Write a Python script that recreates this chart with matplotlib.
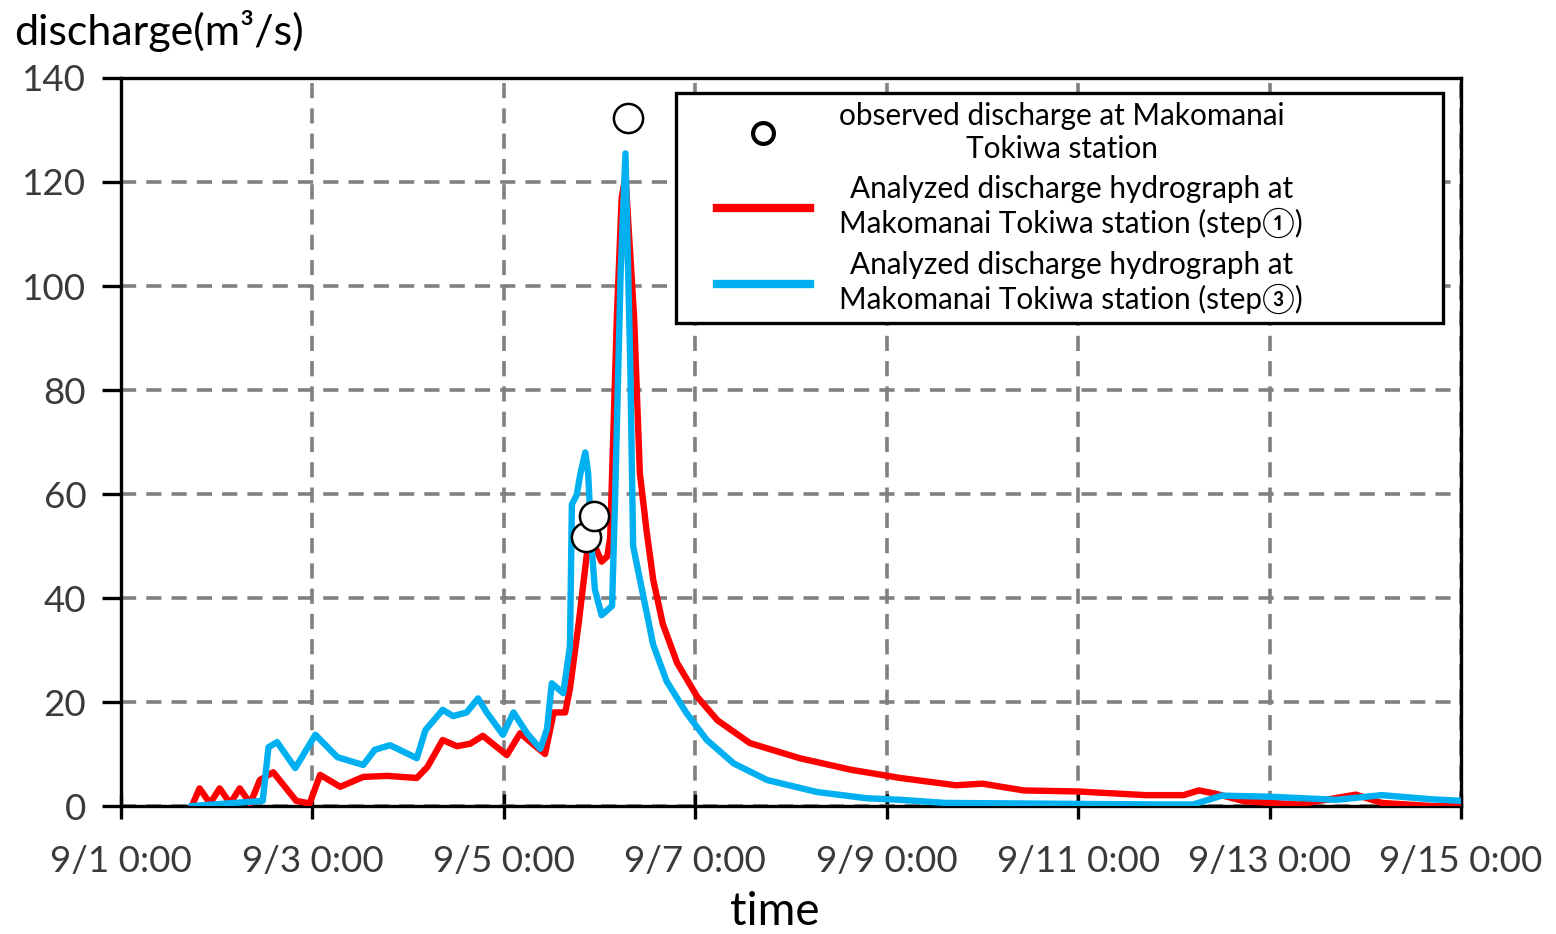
import matplotlib
matplotlib.use("Agg")
import matplotlib.pyplot as plt
from matplotlib.lines import Line2D
from matplotlib.legend_handler import HandlerLine2D

# time in days since 9/1 0:00, discharge in m3/s
t_red = [0.74, 0.82, 0.93, 1.03, 1.14, 1.24, 1.35, 1.45, 1.59, 1.83, 1.97, 2.08, 2.29,
         2.53, 2.78, 3.09, 3.20, 3.36, 3.51, 3.65, 3.78, 4.03, 4.17, 4.31, 4.43, 4.52,
         4.64, 4.69, 4.78, 4.87, 4.95, 5.02, 5.08, 5.11, 5.18, 5.23, 5.27, 5.36, 5.42,
         5.49, 5.56, 5.66, 5.81, 6.02, 6.23, 6.57, 7.09, 7.62, 8.14, 8.72, 9.00, 9.43,
         10.00, 10.70, 11.10, 11.26, 11.43, 11.74, 12.30, 12.90, 13.17, 13.70, 14.00]
q_red = [0, 3.4, 0.5, 3.4, 0.5, 3.4, 0.5, 5.0, 6.5, 1.0, 0.5, 6.0, 3.7,
         5.6, 5.8, 5.4, 7.5, 12.7, 11.5, 12.0, 13.5, 9.8, 14.0, 11.8, 10.0, 18.0,
         18.0, 22.6, 35.0, 49.0, 50.0, 47.0, 48.0, 51.6, 94.0, 117.0, 121.0, 94.0, 64.0,
         53.0, 43.5, 35.0, 27.5, 21.0, 16.5, 12.1, 9.2, 7.0, 5.4, 4.0, 4.3, 3.0,
         2.8, 2.1, 2.1, 3.0, 2.4, 0.9, 0.3, 2.2, 0.6, 0, 0]

t_blue = [0.74, 1.48, 1.54, 1.63, 1.82, 2.03, 2.26, 2.53, 2.65, 2.81, 3.09, 3.18, 3.36,
          3.47, 3.61, 3.73, 3.82, 3.99, 4.10, 4.24, 4.38, 4.45, 4.50, 4.62, 4.69, 4.71,
          4.76, 4.80, 4.85, 4.88, 4.92, 4.95, 5.02, 5.13, 5.16, 5.22, 5.27, 5.32, 5.35,
          5.46, 5.56, 5.70, 5.91, 6.12, 6.40, 6.75, 7.27, 7.79, 8.14, 8.61, 10.87, 11.20,
          11.50, 12.00, 12.70, 13.17, 13.69, 14.00]
q_blue = [0, 1.0, 11.3, 12.3, 7.3, 13.7, 9.4, 7.9, 10.8, 11.7, 9.2, 14.6, 18.5,
          17.3, 18.0, 20.7, 18.0, 13.7, 18.0, 14.0, 11.0, 14.8, 23.6, 21.7, 30.8, 58.0,
          59.8, 64.0, 68.0, 64.0, 49.0, 41.7, 36.7, 38.5, 58.0, 103.0, 125.5, 85.0, 50.0,
          40.0, 31.0, 24.0, 17.8, 12.7, 8.2, 5.0, 2.7, 1.5, 1.2, 0.6, 0.3, 0.3,
          2.0, 1.8, 1.2, 2.1, 1.3, 1.0]

t_obs = [4.86, 4.94, 5.30]
q_obs = [51.7, 55.8, 132.3]

tick_days = [0, 2, 4, 6, 8, 10, 12, 14]
tick_labels = ["9/1 0:00", "9/3 0:00", "9/5 0:00", "9/7 0:00",
               "9/9 0:00", "9/11 0:00", "9/13 0:00", "9/15 0:00"]

plt.rcParams['font.family'] = ['Lato', 'Noto Sans CJK JP', 'DejaVu Sans']

fig = plt.figure(figsize=(15.56, 9.34), dpi=100)
ax = fig.add_axes([0.0778, 0.137, 0.8612, 0.7795])

ax.plot(t_red, q_red, color='#FF0000', linewidth=4.6, zorder=3, solid_joinstyle='round',
        label='Analyzed discharge hydrograph at\nMakomanai Tokiwa station (step①)')
ax.plot(t_blue, q_blue, color='#00B0F0', linewidth=4.6, zorder=4, solid_joinstyle='round',
        label='Analyzed discharge hydrograph at\nMakomanai Tokiwa station (step③)')
ax.plot(t_obs, q_obs, linestyle='none', marker='o', markersize=21,
        markerfacecolor='white', markeredgecolor='black', markeredgewidth=1.8,
        zorder=5, label='observed discharge at Makomanai\nTokiwa station')

ax.set_xlim(0, 14)
ax.set_ylim(0, 140)
ax.set_xticks(tick_days)
ax.set_xticklabels(tick_labels)
ax.set_yticks(range(0, 141, 20))

ax.set_axisbelow(True)
ax.grid(True, color='#808080', linestyle=(0, (4.2, 2.8)), linewidth=2.6)
for s in ax.spines.values():
    s.set_linewidth(2.4)
    s.set_color('black')

ax.tick_params(axis='x', direction='inout', length=18, width=2.4, pad=19,
               labelsize=26.5, labelcolor='#3a3a3a')
ax.tick_params(axis='y', direction='out', length=14, width=2.4, pad=11,
               labelsize=26.5, labelcolor='#3a3a3a')

fig.text(0.009, 0.967, 'discharge(m³/s)', fontsize=31, va='center', ha='left')
fig.text(0.498, 0.024, 'time', fontsize=33, va='center', ha='center')

h, l = ax.get_legend_handles_labels()
order = [2, 0, 1]
leg = ax.legend([h[i] for i in order], [l[i] for i in order],
                loc='upper left', bbox_to_anchor=(0.414, 0.6635, 0.5726, 0.3157),
                mode='expand', borderaxespad=0, fontsize=21.4, frameon=True,
                fancybox=False, edgecolor='black', handlelength=4.2,
                handletextpad=1.0, borderpad=0.3, labelspacing=0.42,
                handler_map={Line2D: HandlerLine2D(xpad=1.08)})
leg.get_frame().set_linewidth(2.4)
leg.get_frame().set_alpha(1)
for t in leg.get_texts():
    t.set_multialignment('center')
leg.legend_handles[0].set_markersize(15)
leg.legend_handles[0].set_markeredgewidth(3)
leg.legend_handles[1].set_linewidth(6)
leg.legend_handles[2].set_linewidth(6)

fig.savefig('out.png', dpi=100)
